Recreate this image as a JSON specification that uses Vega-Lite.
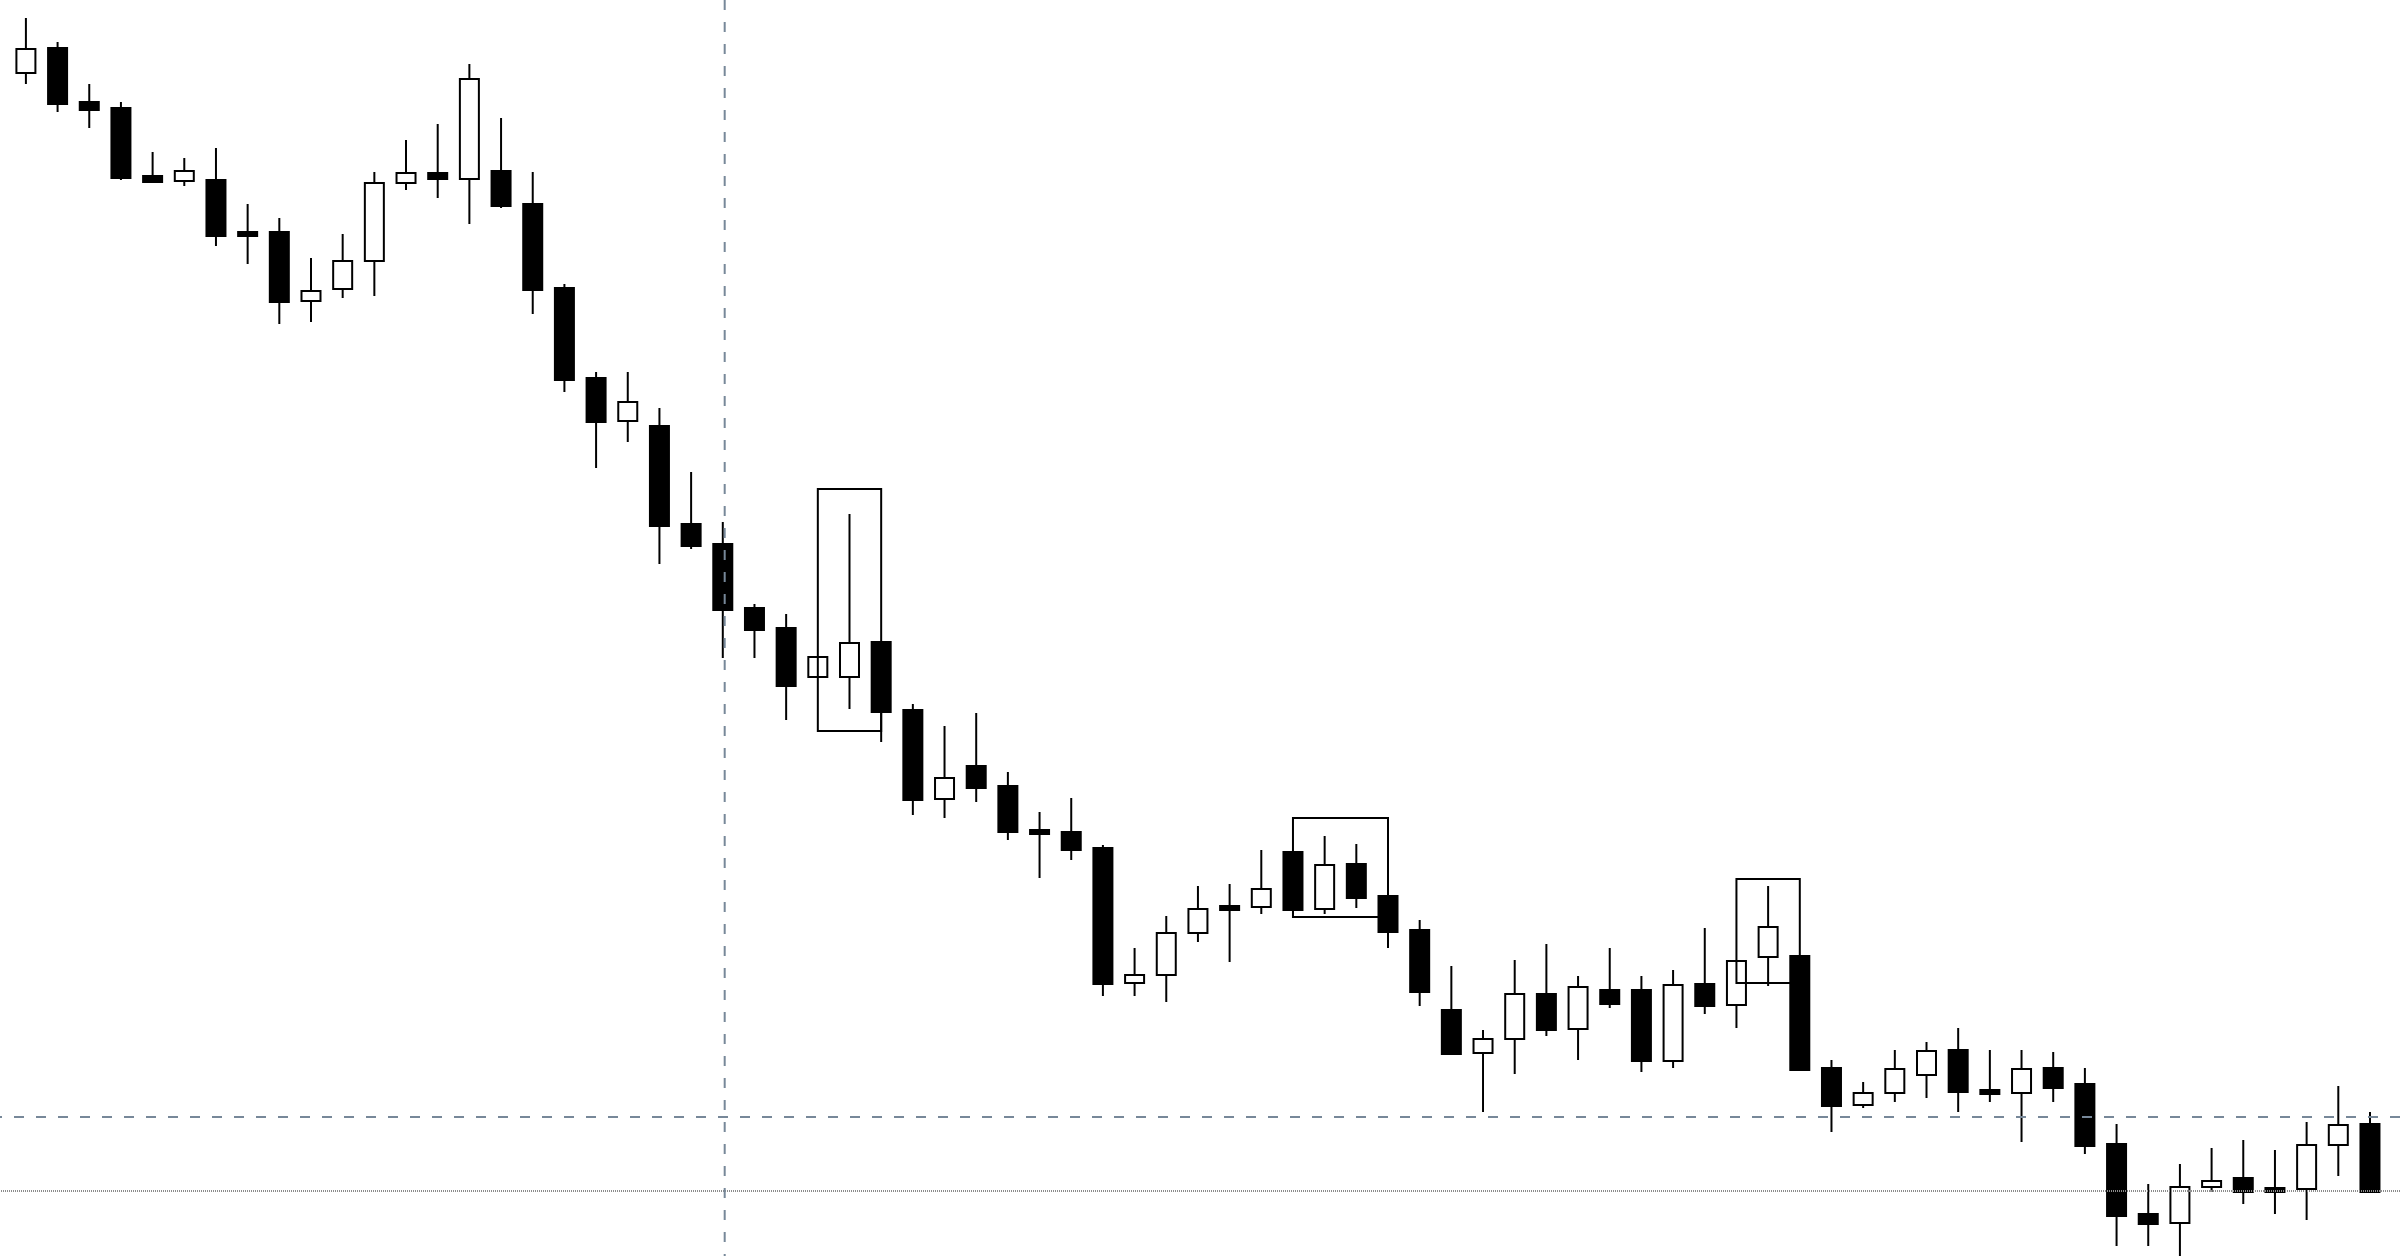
{
  "$schema": "https://vega.github.io/schema/vega-lite/v6.json",
  "width": 2400,
  "height": 1256,
  "autosize": "none",
  "padding": 0,
  "background": "white",
  "config": {"view": {"stroke": null}},
  "datasets": {
    "candles": [
      {"t":0,"o":1.1927,"h":1.1982,"l":1.1916,"c":1.1951},
      {"t":1,"o":1.1952,"h":1.1958,"l":1.1888,"c":1.1896},
      {"t":2,"o":1.1898,"h":1.1916,"l":1.1872,"c":1.1890},
      {"t":3,"o":1.1892,"h":1.1898,"l":1.1820,"c":1.1822},
      {"t":4,"o":1.1824,"h":1.1848,"l":1.1818,"c":1.1818},
      {"t":5,"o":1.1819,"h":1.1842,"l":1.1814,"c":1.1829},
      {"t":6,"o":1.1820,"h":1.1852,"l":1.1754,"c":1.1764},
      {"t":7,"o":1.1768,"h":1.1796,"l":1.1736,"c":1.1764},
      {"t":8,"o":1.1768,"h":1.1782,"l":1.1676,"c":1.1698},
      {"t":9,"o":1.1699,"h":1.1742,"l":1.1678,"c":1.1709},
      {"t":10,"o":1.1711,"h":1.1766,"l":1.1702,"c":1.1739},
      {"t":11,"o":1.1739,"h":1.1828,"l":1.1704,"c":1.1817},
      {"t":12,"o":1.1817,"h":1.1860,"l":1.1810,"c":1.1827},
      {"t":13,"o":1.1827,"h":1.1876,"l":1.1802,"c":1.1821},
      {"t":14,"o":1.1821,"h":1.1936,"l":1.1776,"c":1.1921},
      {"t":15,"o":1.1829,"h":1.1882,"l":1.1792,"c":1.1794},
      {"t":16,"o":1.1796,"h":1.1828,"l":1.1686,"c":1.1710},
      {"t":17,"o":1.1712,"h":1.1716,"l":1.1608,"c":1.1620},
      {"t":18,"o":1.1622,"h":1.1628,"l":1.1532,"c":1.1578},
      {"t":19,"o":1.1579,"h":1.1628,"l":1.1558,"c":1.1598},
      {"t":20,"o":1.1574,"h":1.1592,"l":1.1436,"c":1.1474},
      {"t":21,"o":1.1476,"h":1.1528,"l":1.1451,"c":1.1454},
      {"t":22,"o":1.1456,"h":1.1478,"l":1.1342,"c":1.1390},
      {"t":23,"o":1.1392,"h":1.1396,"l":1.1342,"c":1.1370},
      {"t":24,"o":1.1372,"h":1.1386,"l":1.1280,"c":1.1314},
      {"t":25,"o":1.1323,"h":1.1343,"l":1.1323,"c":1.1343},
      {"t":26,"o":1.1323,"h":1.1486,"l":1.1291,"c":1.1357},
      {"t":27,"o":1.1358,"h":1.1358,"l":1.1258,"c":1.1288},
      {"t":28,"o":1.1290,"h":1.1296,"l":1.1185,"c":1.1200},
      {"t":29,"o":1.1201,"h":1.1274,"l":1.1182,"c":1.1222},
      {"t":30,"o":1.1234,"h":1.1287,"l":1.1198,"c":1.1212},
      {"t":31,"o":1.1214,"h":1.1228,"l":1.1160,"c":1.1168},
      {"t":32,"o":1.1170,"h":1.1188,"l":1.1122,"c":1.1166},
      {"t":33,"o":1.1168,"h":1.1202,"l":1.1140,"c":1.1150},
      {"t":34,"o":1.1152,"h":1.1155,"l":1.1004,"c":1.1016},
      {"t":35,"o":1.1017,"h":1.1052,"l":1.1004,"c":1.1025},
      {"t":36,"o":1.1025,"h":1.1084,"l":1.0998,"c":1.1067},
      {"t":37,"o":1.1067,"h":1.1114,"l":1.1058,"c":1.1091},
      {"t":38,"o":1.1094,"h":1.1116,"l":1.1038,"c":1.1090},
      {"t":39,"o":1.1093,"h":1.1150,"l":1.1086,"c":1.1111},
      {"t":40,"o":1.1148,"h":1.1148,"l":1.1086,"c":1.1090},
      {"t":41,"o":1.1091,"h":1.1164,"l":1.1086,"c":1.1135},
      {"t":42,"o":1.1136,"h":1.1156,"l":1.1092,"c":1.1102},
      {"t":43,"o":1.1104,"h":1.1104,"l":1.1052,"c":1.1068},
      {"t":44,"o":1.1070,"h":1.1080,"l":1.0994,"c":1.1008},
      {"t":45,"o":1.0990,"h":1.1034,"l":1.0946,"c":1.0946},
      {"t":46,"o":1.0947,"h":1.0970,"l":1.0888,"c":1.0961},
      {"t":47,"o":1.0961,"h":1.1040,"l":1.0926,"c":1.1006},
      {"t":48,"o":1.1006,"h":1.1056,"l":1.0964,"c":1.0970},
      {"t":49,"o":1.0971,"h":1.1024,"l":1.0940,"c":1.1013},
      {"t":50,"o":1.1010,"h":1.1052,"l":1.0992,"c":1.0996},
      {"t":51,"o":1.1010,"h":1.1024,"l":1.0928,"c":1.0939},
      {"t":52,"o":1.0939,"h":1.1030,"l":1.0932,"c":1.1015},
      {"t":53,"o":1.1016,"h":1.1072,"l":1.0986,"c":1.0994},
      {"t":54,"o":1.0995,"h":1.1039,"l":1.0972,"c":1.1039},
      {"t":55,"o":1.1043,"h":1.1114,"l":1.1014,"c":1.1073},
      {"t":56,"o":1.1044,"h":1.1044,"l":1.0930,"c":1.0930},
      {"t":57,"o":1.0932,"h":1.0940,"l":1.0868,"c":1.0894},
      {"t":58,"o":1.0895,"h":1.0918,"l":1.0892,"c":1.0907},
      {"t":59,"o":1.0907,"h":1.0950,"l":1.0898,"c":1.0931},
      {"t":60,"o":1.0925,"h":1.0958,"l":1.0902,"c":1.0949},
      {"t":61,"o":1.0950,"h":1.0972,"l":1.0888,"c":1.0908},
      {"t":62,"o":1.0910,"h":1.0950,"l":1.0898,"c":1.0906},
      {"t":63,"o":1.0907,"h":1.0950,"l":1.0858,"c":1.0931},
      {"t":64,"o":1.0932,"h":1.0948,"l":1.0898,"c":1.0912},
      {"t":65,"o":1.0916,"h":1.0932,"l":1.0846,"c":1.0854},
      {"t":66,"o":1.0856,"h":1.0876,"l":1.0754,"c":1.0784},
      {"t":67,"o":1.0786,"h":1.0816,"l":1.0754,"c":1.0776},
      {"t":68,"o":1.0777,"h":1.0836,"l":1.0744,"c":1.0813},
      {"t":69,"o":1.0813,"h":1.0852,"l":1.0808,"c":1.0819},
      {"t":70,"o":1.0822,"h":1.0860,"l":1.0796,"c":1.0808},
      {"t":71,"o":1.0812,"h":1.0850,"l":1.0786,"c":1.0808},
      {"t":72,"o":1.0811,"h":1.0878,"l":1.0780,"c":1.0855},
      {"t":73,"o":1.0855,"h":1.0914,"l":1.0824,"c":1.0875},
      {"t":74,"o":1.0876,"h":1.0888,"l":1.0808,"c":1.0808}
    ],
    "boxes": [
      {"t1":25,"t2":27,"top":1.1511,"bot":1.1269},
      {"t1":40,"t2":43,"top":1.1182,"bot":1.1083},
      {"t1":54,"t2":56,"top":1.1121,"bot":1.1017}
    ],
    "hdash": [{"p":1.0883}],
    "hdot": [{"p":1.0809}],
    "vdash": [{"t":22.06}]
  },
  "layer": [
    {
      "data": {"name": "candles"},
      "mark": {"type": "rule", "color": "black", "strokeWidth": 2},
      "encoding": {
        "x": {"field": "t", "type": "quantitative", "axis": null, "scale": {"domain": [-0.66, 74.79], "nice": false, "zero": false}},
        "y": {"field": "l", "type": "quantitative", "axis": null, "scale": {"domain": [1.0744, 1.2], "nice": false, "zero": false}},
        "y2": {"field": "h"}
      }
    },
    {
      "data": {"name": "candles"},
      "mark": {"type": "bar", "size": 19, "stroke": "black", "strokeWidth": 2},
      "encoding": {
        "x": {"field": "t", "type": "quantitative", "axis": null},
        "y": {"field": "o", "type": "quantitative", "axis": null},
        "y2": {"field": "c"},
        "fill": {"condition": {"test": "datum.c > datum.o", "value": "white"}, "value": "black"}
      }
    },
    {
      "data": {"name": "boxes"},
      "mark": {"type": "rect", "fill": null, "fillOpacity": 0, "stroke": "black", "strokeWidth": 2},
      "encoding": {
        "x": {"field": "t1", "type": "quantitative", "axis": null},
        "x2": {"field": "t2"},
        "y": {"field": "top", "type": "quantitative", "axis": null},
        "y2": {"field": "bot"}
      }
    },
    {
      "data": {"name": "hdot"},
      "mark": {"type": "rule", "color": "#8c8c8c", "strokeWidth": 2, "strokeDash": [1, 1]},
      "encoding": {"y": {"field": "p", "type": "quantitative", "axis": null}}
    },
    {
      "data": {"name": "hdash"},
      "mark": {"type": "rule", "color": "#778899", "strokeWidth": 2, "strokeDash": [10, 12]},
      "encoding": {"y": {"field": "p", "type": "quantitative", "axis": null}}
    },
    {
      "data": {"name": "vdash"},
      "mark": {"type": "rule", "color": "#778899", "strokeWidth": 2, "strokeDash": [10, 12]},
      "encoding": {"x": {"field": "t", "type": "quantitative", "axis": null}}
    }
  ]
}
